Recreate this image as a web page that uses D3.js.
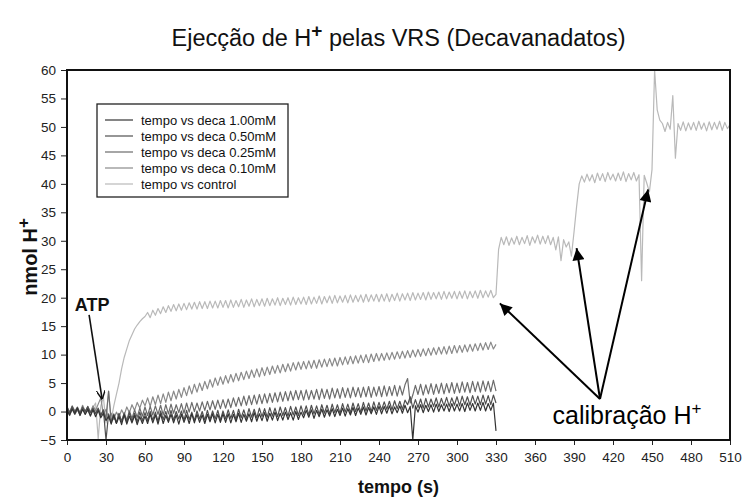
<!DOCTYPE html>
<html>
<head>
<meta charset="utf-8">
<script src="https://cdn.jsdelivr.net/npm/d3@7"></script>
<style>
  body { margin: 0; background: #fff; }
  svg text { font-family: "Liberation Sans", Arial, Helvetica, sans-serif; }
</style>
</head>
<body>
<svg id="chart" width="743" height="497"></svg>
<script>
// Sampling interval of every trace (seconds)
const step = 2;

// nmol H+ recorded every 2 s, from t = 0 to 330 s
const deca100 = [
  0.3,-0.6,0.5,-0.4,0.6,-0.7,0.4,-0.5,0.5,-0.8,0.3,
  -0.9,0.2,-1.1,-0.3,-1.6,
  -0.8,-2.2,-0.7,-2.1,-0.9,-2.3,-0.6,-2.2,-0.8,-2.0,-0.7,-2.3,-0.9,-2.1,-0.8,
  -2.1,-0.5,-2.0,-0.6,-2.2,-0.4,-2.1,-0.7,-1.9,-0.5,-2.0,-0.6,-2.2,-0.5,-1.9,-0.6,-2.1,-0.4,-2.0,-0.5,-1.9,-0.6,-2.1,-0.5,-1.8,-0.4,-2.0,-0.5,-1.9,-0.4,
  -1.9,-0.4,-2.0,-0.5,-1.8,-0.3,-1.9,-0.5,-1.7,-0.4,-1.8,-0.2,-1.7,-0.4,-1.6,-0.2,-1.7,-0.3,-1.5,-0.1,-1.6,-0.3,-1.5,-0.1,-1.4,-0.2,-1.5,0.0,-1.4,-0.1,
  -1.1,0.2,-1.0,0.3,-1.2,0.2,-0.9,0.4,-1.0,0.3,-0.8,0.5,-0.9,0.4,-0.7,0.6,-0.8,0.5,-0.6,0.7,-0.7,0.6,-0.5,0.8,-0.6,0.7,-0.4,0.8,-0.5,0.9,
  -0.4,0.9,-0.3,1.0,-0.4,0.8,-0.2,1.0,-0.3,1.1,-0.2,0.9,-5.0,1.0,-0.1,1.2,-0.2,1.1,0.0,1.2,-0.1,1.3,0.0,1.2,0.1,1.3,0.0,1.4,0.1,1.3,
  0.1,1.4,0.0,1.5,0.2,1.4,0.1,1.5,0.2,1.6,0.1,1.4,0.2,1.5,-3.4
];
const deca050 = [
  0.8,-0.2,0.9,-0.1,0.7,-0.3,0.8,0.0,0.9,-0.2,0.6,
  -0.3,0.5,-0.6,0.3,-5.0,
  -0.4,-1.9,-0.5,-2.0,-0.3,-1.8,-0.4,-1.9,-0.2,-1.7,-0.3,-1.8,-0.1,-1.6,-0.2,
  -1.6,0.0,-1.5,-0.1,-1.7,0.1,-1.4,0.0,-1.6,0.2,-1.5,0.0,-1.3,0.1,-1.5,0.2,-1.4,-0.1,-1.6,0.1,-1.3,0.0,-1.5,0.2,-1.4,0.1,-1.3,0.2,-1.5,0.1,
  -1.3,0.3,-1.2,0.2,-1.4,0.4,-1.1,0.3,-1.2,0.5,-1.0,0.4,-1.1,0.6,-0.9,0.5,-1.0,0.7,-0.8,0.6,-0.9,0.8,-0.7,0.7,-0.8,0.9,-0.6,0.8,-0.7,1.0,
  -0.5,1.0,-0.6,1.1,-0.4,1.0,-0.5,1.2,-0.3,1.1,-0.4,1.3,-0.2,1.2,-0.3,1.4,-0.1,1.3,-0.2,1.5,0.0,1.4,-0.1,1.6,0.1,1.5,0.0,1.7,0.2,1.6,
  0.3,1.7,0.4,1.8,0.3,1.9,0.5,1.8,0.4,2.0,1.2,2.6,0.6,2.1,0.7,2.2,0.6,2.3,0.8,2.2,0.9,2.4,0.8,2.3,1.0,2.5,0.9,2.4,1.1,2.6,
  1.0,2.7,1.2,2.6,1.1,2.8,1.3,2.7,1.2,2.9,1.3,2.8,1.2,2.9,1.5
];
const deca025 = [
  0.2,-0.7,0.4,-0.5,0.3,-0.6,0.5,-0.4,0.2,-0.7,0.4,
  -0.4,0.6,-0.8,0.2,-1.2,
  3.6,-1.8,-0.4,-2.0,-0.5,-1.7,-0.2,-1.5,0.1,-1.2,0.3,-1.0,0.6,-0.8,0.8,
  -0.7,0.9,-0.6,1.0,-0.5,1.1,-0.6,1.2,-0.4,1.3,-0.3,1.2,-0.2,1.4,-0.3,1.5,-0.1,1.6,0.0,1.5,0.1,1.7,0.2,1.8,0.3,1.9,0.4,2.0,0.5,2.1,
  0.6,2.2,0.7,2.4,0.9,2.5,1.0,2.7,1.1,2.8,1.2,2.9,1.3,3.0,1.4,3.1,1.5,3.2,1.6,3.3,1.7,3.4,1.8,3.5,1.9,3.6,2.0,3.7,2.1,3.7,
  2.0,3.8,2.1,3.7,2.2,3.9,2.1,4.0,2.3,3.9,2.2,4.1,2.4,4.0,2.3,4.2,2.5,4.1,2.4,4.3,2.6,4.2,2.5,4.3,2.6,4.4,2.5,4.3,2.7,4.4,
  2.6,4.5,2.7,4.4,2.8,4.6,2.7,4.5,2.9,4.7,5.8,1.5,2.9,4.6,3.0,4.8,2.9,4.7,3.1,4.9,3.0,4.8,3.2,5.0,3.1,4.9,3.3,5.1,3.2,5.0,
  3.3,5.2,3.4,5.1,3.3,5.3,3.5,5.2,3.4,5.4,3.6,5.3,3.5,5.5,3.6
];
const deca010 = [
  0.9,-0.1,1.0,0.1,0.8,-0.2,1.1,0.0,0.9,-0.1,1.0,
  0.2,1.3,2.4,-0.6,0.4,
  -1.2,-0.3,-1.4,-0.1,-1.0,0.3,-0.6,0.8,-0.2,1.2,0.2,1.6,0.6,2.0,1.0,
  2.4,0.9,2.6,1.2,2.9,1.4,3.1,1.6,3.4,1.9,3.6,2.2,3.9,2.5,4.2,2.8,4.5,3.1,4.8,3.4,5.0,3.7,5.3,4.0,5.6,4.3,5.9,4.6,6.1,4.8,
  6.3,5.0,6.5,5.2,6.7,5.4,6.9,5.6,7.1,5.8,7.3,6.0,7.5,6.1,7.7,6.3,7.8,6.5,8.0,6.7,8.1,6.8,8.3,7.0,8.4,7.1,8.6,7.3,8.7,7.4,
  8.8,7.5,8.9,7.6,9.0,7.6,9.1,7.8,9.2,7.9,9.3,8.0,9.4,8.0,9.5,8.2,9.6,8.3,9.7,8.4,9.8,8.5,9.9,8.6,10.0,8.6,10.1,8.8,10.2,8.9,
  10.2,9.0,10.3,9.1,10.4,9.2,10.5,9.3,10.6,9.4,10.7,9.5,10.8,9.6,10.9,9.7,11.0,9.8,11.1,9.9,11.2,10.0,11.3,10.1,11.4,10.1,11.5,10.2,11.6,10.3,
  11.6,10.4,11.7,10.5,11.8,10.6,11.9,10.7,12.0,10.8,12.1,10.9,12.2,11.0,11.8
];
// Control run continues through the three calibration additions, t = 0 to 510 s
const control = [
  0.6,-0.2,0.7,0.0,0.5,-0.3,0.8,0.1,0.6,-0.1,0.7,
  1.5,-4.8,1.0,2.5,-2.0,3.5,-1.5,1.0,3.0,5.0,
  7.5,9.5,11.0,12.5,13.5,14.5,15.2,15.8,16.3,16.7,
  17.4,16.5,17.8,16.9,18.1,17.2,18.4,17.4,18.6,17.6,18.8,17.7,18.9,17.8,19.0,17.9,19.1,18.0,19.2,18.0,19.3,18.1,19.3,18.1,19.4,18.2,19.4,18.2,19.5,18.3,
  19.5,18.2,19.6,18.3,19.5,18.4,19.7,18.3,19.6,18.5,19.8,18.4,19.7,18.6,19.8,18.5,19.9,18.6,19.8,18.7,20.0,18.6,19.9,18.8,20.0,18.7,20.1,18.8,20.0,18.9,
  20.1,18.8,20.2,18.9,20.1,19.0,20.3,18.9,20.2,19.1,20.3,19.0,20.4,19.1,20.3,19.2,20.4,19.1,20.5,19.2,20.4,19.3,20.5,19.2,20.6,19.3,20.5,19.4,20.6,19.3,
  20.6,19.4,20.7,19.3,20.6,19.5,20.8,19.4,20.7,19.6,20.8,19.5,20.9,19.6,20.8,19.7,20.9,19.6,21.0,19.7,20.9,19.8,21.0,19.7,21.1,19.8,21.0,19.9,21.1,19.8,
  21.1,19.9,21.2,19.8,21.1,20.0,21.2,19.9,21.3,20.0,21.2,20.1,21.3,20.0,20.6,
  28.5,30.6,29.3,30.7,29.2,30.5,29.4,30.8,29.3,30.6,29.5,30.9,29.2,30.7,29.6,31.0,29.4,30.8,29.5,30.9,29.3,30.6,28.4,30.7,26.5,30.2,28.9,29.8,27.3,31.5,
  36.0,40.0,41.4,40.3,41.7,40.5,41.6,40.2,41.9,40.6,41.8,40.4,42.0,40.7,41.7,40.5,41.9,40.6,42.1,40.4,41.8,40.7,42.0,40.5,41.6,23.0,41.5,40.1,38.6,42.5,
  60.0,53.0,51.2,50.6,49.2,50.8,49.6,55.5,44.5,50.6,49.4,50.9,49.3,50.7,49.5,50.8,49.4,51.0,49.6,50.7,49.3,50.9,49.5,50.8,49.6,51.0,49.4,50.8,49.7,50.4
];

const seriesNames = [
  "tempo vs deca 1.00mM",
  "tempo vs deca 0.50mM",
  "tempo vs deca 0.25mM",
  "tempo vs deca 0.10mM",
  "tempo vs control"
];
const seriesValues = [deca100, deca050, deca025, deca010, control];
const seriesColors = ["#333333", "#505050", "#6c6c6c", "#8a8a8a", "#b9b9b9"];

const xTickValues = [0, 30, 60, 90, 120, 150, 180, 210, 240, 270, 300, 330, 360, 390, 420, 450, 480, 510];
const yTickValues = [-5, 0, 5, 10, 15, 20, 25, 30, 35, 40, 45, 50, 55, 60];

// Annotation anchors, in data units (s, nmol H+)
const atpLabel = { t: 6, v: 17.6 };
const atpArrow = { from: [17, 17], to: [27, 2.2] };
const calibLabel = { t: 373.5, v: -2.2 };
const calibOrigin = [410, 2.2];
const calibTargets = [[333, 19], [392, 28.7], [447, 39]];

const svg = d3.select("#chart");
const plot = { left: 67, right: 730, top: 70, bottom: 440 };

const x = d3.scaleLinear().domain([0, 510]).range([plot.left, plot.right]);
const y = d3.scaleLinear().domain([-5, 60]).range([plot.bottom, plot.top]);

svg.append("rect").attr("width", 743).attr("height", 497).attr("fill", "#fff");

// Title
const title = svg.append("text")
  .attr("x", (plot.left + plot.right) / 2).attr("y", 46)
  .attr("text-anchor", "middle")
  .attr("font-size", 23.5).attr("fill", "#111");
title.append("tspan").text("Ejecção de H");
title.append("tspan").attr("dy", -9).attr("font-size", 19).attr("font-weight", "bold").text("+");
title.append("tspan").attr("dy", 9).text(" pelas VRS (Decavanadatos)");

// Axes
const xAxis = d3.axisBottom(x).tickValues(xTickValues).tickSize(5).tickSizeOuter(0).tickPadding(7);
const yAxis = d3.axisLeft(y).tickValues(yTickValues).tickSize(6).tickSizeOuter(0).tickPadding(5);

const gx = svg.append("g").attr("transform", `translate(0,${plot.bottom})`).call(xAxis);
const gy = svg.append("g").attr("transform", `translate(${plot.left},0)`).call(yAxis);
[gx, gy].forEach(g => {
  g.select(".domain").remove();
  g.selectAll(".tick line").attr("stroke", "#222").attr("stroke-width", 1);
  g.selectAll(".tick text").attr("font-size", 13.5).attr("fill", "#222")
    .style("font-family", "'Liberation Sans', Arial, sans-serif");
});

// Axis titles
svg.append("text")
  .attr("x", (plot.left + plot.right) / 2).attr("y", 493)
  .attr("text-anchor", "middle").attr("font-size", 18).attr("font-weight", "bold")
  .attr("fill", "#111").text("tempo (s)");

const yTitle = svg.append("text")
  .attr("transform", `translate(37,${(plot.top + plot.bottom) / 2 + 2}) rotate(-90)`)
  .attr("text-anchor", "middle").attr("font-size", 20).attr("font-weight", "bold").attr("fill", "#111");
yTitle.append("tspan").text("nmol H");
yTitle.append("tspan").attr("dy", -8).attr("font-size", 17).text("+");

// Traces
svg.append("clipPath").attr("id", "plotClip")
  .append("rect").attr("x", plot.left).attr("y", plot.top)
  .attr("width", plot.right - plot.left).attr("height", plot.bottom - plot.top);

const line = d3.line()
  .x((d, i) => x(i * step))
  .y(d => y(d));

const traces = svg.append("g").attr("clip-path", "url(#plotClip)");
// lighter traces underneath, darker ones on top
for (let k = seriesValues.length - 1; k >= 0; k--) {
  traces.append("path")
    .datum(seriesValues[k])
    .attr("fill", "none")
    .attr("stroke", seriesColors[k])
    .attr("stroke-width", 1.2)
    .attr("stroke-linejoin", "round")
    .attr("d", line);
}

// Plot frame
svg.append("rect")
  .attr("x", plot.left).attr("y", plot.top)
  .attr("width", plot.right - plot.left).attr("height", plot.bottom - plot.top)
  .attr("fill", "none").attr("stroke", "#111").attr("stroke-width", 2);

// Legend
const legend = svg.append("g").attr("transform", "translate(97,104)");
legend.append("rect").attr("width", 191).attr("height", 93)
  .attr("fill", "#fff").attr("stroke", "#222").attr("stroke-width", 1.3);
seriesNames.forEach((name, i) => {
  const row = legend.append("g").attr("transform", `translate(0,${16 + i * 16})`);
  row.append("line").attr("x1", 8).attr("x2", 36)
    .attr("stroke", seriesColors[i]).attr("stroke-width", 1.2);
  row.append("text").attr("x", 44).attr("y", 4.5)
    .attr("font-size", 13).attr("fill", "#111").text(name);
});

// Arrow markers
const defs = svg.append("defs");
defs.append("marker").attr("id", "openHead")
  .attr("viewBox", "0 0 10 10").attr("refX", 9.5).attr("refY", 5)
  .attr("markerWidth", 9).attr("markerHeight", 9).attr("markerUnits", "userSpaceOnUse")
  .attr("orient", "auto")
  .append("path").attr("d", "M0,0 L10,5 L0,10").attr("fill", "none")
  .attr("stroke", "#111").attr("stroke-width", 1.6);
defs.append("marker").attr("id", "solidHead")
  .attr("viewBox", "0 0 10 10").attr("refX", 10).attr("refY", 5)
  .attr("markerWidth", 14).attr("markerHeight", 12).attr("markerUnits", "userSpaceOnUse")
  .attr("orient", "auto")
  .append("path").attr("d", "M0,0 L10,5 L0,10 Z").attr("fill", "#000");

// ATP annotation
svg.append("text").attr("x", x(atpLabel.t)).attr("y", y(atpLabel.v))
  .attr("font-size", 18).attr("font-weight", "bold").attr("fill", "#111").text("ATP");
svg.append("line")
  .attr("x1", x(atpArrow.from[0])).attr("y1", y(atpArrow.from[1]))
  .attr("x2", x(atpArrow.to[0])).attr("y2", y(atpArrow.to[1]))
  .attr("stroke", "#111").attr("stroke-width", 1.6).attr("marker-end", "url(#openHead)");

// Calibration annotation
calibTargets.forEach(tg => {
  svg.append("line")
    .attr("x1", x(calibOrigin[0])).attr("y1", y(calibOrigin[1]))
    .attr("x2", x(tg[0])).attr("y2", y(tg[1]))
    .attr("stroke", "#000").attr("stroke-width", 2).attr("marker-end", "url(#solidHead)");
});
const calib = svg.append("text").attr("x", x(calibLabel.t)).attr("y", y(calibLabel.v))
  .attr("font-size", 25).attr("fill", "#000");
calib.append("tspan").text("calibração H");
calib.append("tspan").attr("dy", -10).attr("font-size", 17).text("+");
</script>
